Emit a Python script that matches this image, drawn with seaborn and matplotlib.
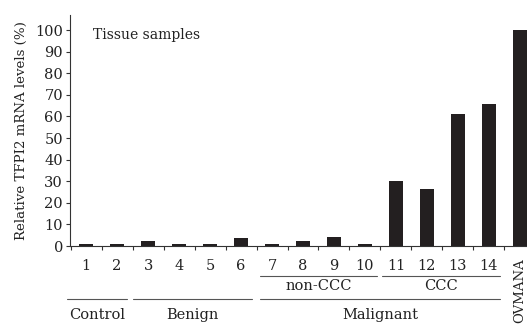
import matplotlib
matplotlib.use("Agg")
import matplotlib.pyplot as plt
import matplotlib.transforms as mtransforms
import seaborn as sns
import pandas as pd

# sample labels and relative TFPI2 mRNA levels (%)
samples = ["1", "2", "3", "4", "5", "6", "7", "8", "9", "10",
           "11", "12", "13", "14", "OVMANA"]
levels = [0.8, 0.8, 2.5, 0.8, 0.8, 3.8, 0.8, 2.5, 4.3, 0.8,
          30, 26.5, 61, 66, 100]

# group brackets under the axis: (label, start, end) in bar index units
sub_groups = [("non-CCC", 5.61, 9.39), ("CCC", 9.55, 13.35)]
main_groups = [("Control", -0.61, 1.32), ("Benign", 1.52, 5.35),
               ("Malignant", 5.61, 13.35)]

sns.set_style("ticks")
plt.rcParams["font.family"] = ["DejaVu Serif"]
plt.rcParams["mathtext.fontset"] = "dejavuserif"

df = pd.DataFrame({"sample": samples, "level": levels})

fig = plt.figure(figsize=(5.27, 3.24), dpi=100)
ax = fig.add_axes([70 / 527, 78 / 324, 457 / 527, 231 / 324])

sns.barplot(data=df, x="sample", y="level", order=samples, color="#231f20",
            width=0.45, saturation=1, ax=ax, edgecolor="none")

ax.set_xlim(-0.52, 14.23)
ax.set_ylim(0, 107)
ax.set_yticks(range(0, 101, 10))
ax.tick_params(axis="y", labelsize=10.5, length=3, width=0.8, pad=2,
               colors="#333333", labelcolor="#222222")
ax.set_ylabel("Relative TFPI2 mRNA levels (%)", fontsize=9.6,
              color="#222222", labelpad=5)
ax.set_xlabel("")

ax.set_xticks(range(len(samples)))
ax.set_xticklabels(samples)
ax.tick_params(axis="x", which="major", length=0, labelsize=10.5, pad=9,
               labelcolor="#222222")
ax.set_xticks([i + 0.5 for i in range(-1, len(samples) - 1)], minor=True)
ax.tick_params(axis="x", which="minor", length=3, width=0.8, colors="#333333")
last = ax.get_xticklabels()[-1]
last.set_rotation(90)
last.set_va("top")
last.set_ha("center")
last.set_fontsize(9.5)

for side in ["top", "right"]:
    ax.spines[side].set_visible(False)
for side in ["left", "bottom"]:
    ax.spines[side].set_linewidth(0.8)
    ax.spines[side].set_color("#333333")

ax.text(0.23, 97.7, "Tissue samples", fontsize=10, va="center", ha="left",
        color="#222222")

trans = mtransforms.blended_transform_factory(ax.transData, ax.transAxes)
for name, a, b in sub_groups:
    ax.plot([a, b], [-0.13, -0.13], transform=trans, clip_on=False,
            color="#555555", lw=0.8)
    ax.text((a + b) / 2, -0.175, name, transform=trans, ha="center",
            va="center", fontsize=10.5, color="#222222")
for name, a, b in main_groups:
    ax.plot([a, b], [-0.229, -0.229], transform=trans, clip_on=False,
            color="#555555", lw=0.8)
    ax.text((a + b) / 2, -0.30, name, transform=trans, ha="center",
            va="center", fontsize=10.5, color="#222222")

fig.savefig("out.png", dpi=100)
